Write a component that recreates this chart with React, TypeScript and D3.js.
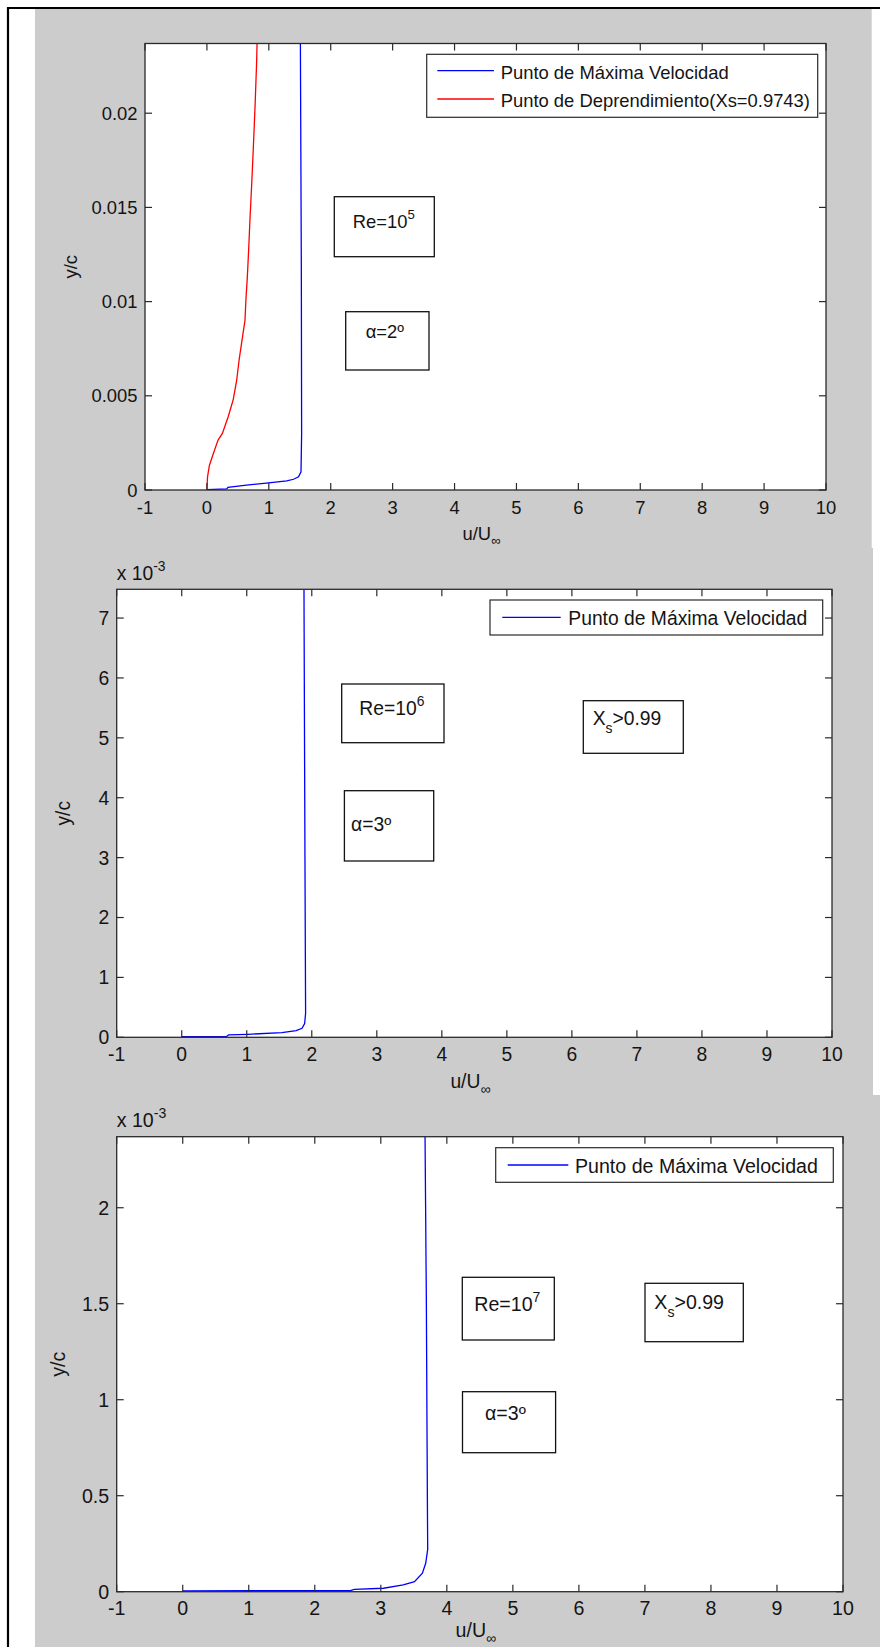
import React from 'react';
import * as d3 from 'd3';

// Shared x axis: u/U∞
const xDomain: [number, number] = [-1, 10];
const xTicks = [-1, 0, 1, 2, 3, 4, 5, 6, 7, 8, 9, 10];

// Re = 1e5, alpha = 2°
const re5YTicks = [0, 0.005, 0.01, 0.015, 0.02];
const re5YTickLabels = ['0', '0.005', '0.01', '0.015', '0.02'];
const re5MaxU = [0, 0.32, 0.34, 0.64, 0.96, 1.29, 1.4, 1.48, 1.52, 1.53, 1.525, 1.51];
const re5MaxY = [0.00002, 0.00006, 0.00014, 0.00026, 0.00037, 0.00048, 0.00057, 0.0007, 0.00097, 0.003, 0.012, 0.0237];
const re5SepU = [0, 0.01, 0.04, 0.1, 0.18, 0.25, 0.345, 0.425, 0.48, 0.52, 0.56, 0.615, 0.63, 0.653, 0.675, 0.696, 0.723, 0.749, 0.777, 0.803, 0.81];
const re5SepY = [0, 0.0007, 0.0013, 0.0019, 0.00265, 0.003, 0.0039, 0.0048, 0.0058, 0.0069, 0.0078, 0.009, 0.0101, 0.0113, 0.0128, 0.0144, 0.0162, 0.0181, 0.0203, 0.0227, 0.0237];

// Re = 1e6, alpha = 3° (y in units of 1e-3)
const re6YTicks = [0, 1, 2, 3, 4, 5, 6, 7];
const re6YTickLabels = ['0', '1', '2', '3', '4', '5', '6', '7'];
const re6MaxU = [0, 0.69, 0.72, 1.02, 1.54, 1.76, 1.85, 1.89, 1.905, 1.895, 1.88];
const re6MaxY = [0.01, 0.015, 0.04, 0.05, 0.077, 0.11, 0.15, 0.23, 0.4, 3.0, 7.48];

// Re = 1e7, alpha = 3° (y in units of 1e-3)
const re7YTicks = [0, 0.5, 1, 1.5, 2];
const re7YTickLabels = ['0', '0.5', '1', '1.5', '2'];
const re7MaxU = [0, 2.54, 2.6, 3.04, 3.34, 3.51, 3.63, 3.68, 3.71, 3.705, 3.69, 3.67];
const re7MaxY = [0.004, 0.006, 0.012, 0.018, 0.035, 0.052, 0.096, 0.148, 0.22, 0.5, 1.5, 2.37];

const FONT = '"Liberation Sans", Arial, Helvetica, sans-serif';
const INK = '#141414';
const AXIS = '#2a2a2a';
const BLUE = '#0000ff';
const RED = '#ff0000';
const FIG_BG = '#cccccc';

type Series = { u: number[]; y: number[]; color: string; name: string };
type Box = { x0: number; y0: number; x1: number; y1: number };
type Note = { box: Box; tx: number; ty: number; kind: 're' | 'alpha' | 'xs'; value: string };
type LegendCfg = { box: Box; lx0: number; lx1: number; ly: number[]; tx: number; ty: number[] };

type PanelCfg = {
  id: string;
  left: number; right: number; top: number; bottom: number;
  yMax: number;
  yTicks: number[]; yTickLabels: string[];
  fs: number;
  exponent: boolean;
  yLabelX: number;
  xLabelGap: number;
  series: Series[];
  legend: LegendCfg;
  notes: Note[];
};

const panels: PanelCfg[] = [
  {
    id: 'p1', left: 145, right: 826, top: 43.5, bottom: 490, yMax: 0.0237,
    yTicks: re5YTicks, yTickLabels: re5YTickLabels, fs: 18.4, exponent: false, yLabelX: 77, xLabelGap: 49.5,
    series: [
      { u: re5MaxU, y: re5MaxY, color: BLUE, name: 'Punto de Máxima Velocidad' },
      { u: re5SepU, y: re5SepY, color: RED, name: 'Punto de Deprendimiento(Xs=0.9743)' },
    ],
    legend: { box: { x0: 426.7, y0: 54.3, x1: 817.7, y1: 117.3 }, lx0: 437.3, lx1: 494, ly: [70.7, 99], tx: 500.7, ty: [78.5, 107] },
    notes: [
      { box: { x0: 334.3, y0: 196.7, x1: 434.3, y1: 256.7 }, tx: 352.7, ty: 227.7, kind: 're', value: '5' },
      { box: { x0: 345.7, y0: 311.7, x1: 429, y1: 370 }, tx: 365.7, ty: 337.7, kind: 'alpha', value: '2' },
    ],
  },
  {
    id: 'p2', left: 116.7, right: 832, top: 589.3, bottom: 1037.3, yMax: 7.48,
    yTicks: re6YTicks, yTickLabels: re6YTickLabels, fs: 19.3, exponent: true, yLabelX: 70, xLabelGap: 50.5,
    series: [{ u: re6MaxU, y: re6MaxY, color: BLUE, name: 'Punto de Máxima Velocidad' }],
    legend: { box: { x0: 490, y0: 600, x1: 822.7, y1: 635 }, lx0: 502.3, lx1: 560.7, ly: [617.3], tx: 568.3, ty: [625] },
    notes: [
      { box: { x0: 341.7, y0: 684, x1: 444, y1: 742.7 }, tx: 359.3, ty: 715, kind: 're', value: '6' },
      { box: { x0: 583.3, y0: 700.7, x1: 683.3, y1: 753.3 }, tx: 592.7, ty: 725, kind: 'xs', value: '>0.99' },
      { box: { x0: 344.4, y0: 790.7, x1: 433.7, y1: 861 }, tx: 351, ty: 831, kind: 'alpha', value: '3' },
    ],
  },
  {
    id: 'p3', left: 116.7, right: 843, top: 1136.7, bottom: 1591.7, yMax: 2.37,
    yTicks: re7YTicks, yTickLabels: re7YTickLabels, fs: 19.6, exponent: true, yLabelX: 65, xLabelGap: 45.5,
    series: [{ u: re7MaxU, y: re7MaxY, color: BLUE, name: 'Punto de Máxima Velocidad' }],
    legend: { box: { x0: 495.7, y0: 1147.7, x1: 833.3, y1: 1182.3 }, lx0: 507.7, lx1: 568.3, ly: [1165], tx: 575, ty: [1172.5] },
    notes: [
      { box: { x0: 462.3, y0: 1277.3, x1: 554.3, y1: 1340 }, tx: 474.3, ty: 1310.7, kind: 're', value: '7' },
      { box: { x0: 645, y0: 1283.3, x1: 743.3, y1: 1341.7 }, tx: 654.3, ty: 1309.3, kind: 'xs', value: '>0.99' },
      { box: { x0: 462.5, y0: 1391.7, x1: 555.6, y1: 1452.7 }, tx: 485, ty: 1420, kind: 'alpha', value: '3' },
    ],
  },
];

const TICK = 7;

function NoteText({ n, fs }: { n: Note; fs: number }) {
  const small = fs * 0.72;
  if (n.kind === 're') {
    return (
      <text x={n.tx} y={n.ty} fontSize={fs} fill={INK} fontFamily={FONT}>
        Re=10<tspan dy={-fs * 0.45} fontSize={small}>{n.value}</tspan>
      </text>
    );
  }
  if (n.kind === 'xs') {
    return (
      <text x={n.tx} y={n.ty} fontSize={fs} fill={INK} fontFamily={FONT}>
        X<tspan dy={fs * 0.4} fontSize={small}>s</tspan>
        <tspan dy={-fs * 0.4} fontSize={fs}>{n.value}</tspan>
      </text>
    );
  }
  return (
    <text x={n.tx} y={n.ty} fontSize={fs} fill={INK} fontFamily={FONT}>
      α={n.value}º
    </text>
  );
}

function Panel({ p }: { p: PanelCfg }) {
  const x = d3.scaleLinear().domain(xDomain).range([p.left, p.right]);
  const y = d3.scaleLinear().domain([0, p.yMax]).range([p.bottom, p.top]);
  const line = d3
    .line<[number, number]>()
    .x((d) => x(d[0]))
    .y((d) => y(d[1]));
  const fs = p.fs;
  const midX = (p.left + p.right) / 2;
  const midY = (p.top + p.bottom) / 2;

  return (
    <g>
      <defs>
        <clipPath id={`clip-${p.id}`}>
          <rect x={p.left} y={p.top} width={p.right - p.left} height={p.bottom - p.top} />
        </clipPath>
      </defs>
      <rect x={p.left} y={p.top} width={p.right - p.left} height={p.bottom - p.top} fill="#ffffff" />

      {/* curves */}
      <g clipPath={`url(#clip-${p.id})`}>
        {p.series.map((s) => (
          <path
            key={s.name + s.color}
            d={line(d3.zip(s.u, s.y) as [number, number][]) || ''}
            fill="none"
            stroke={s.color}
            strokeWidth={1.3}
          />
        ))}
      </g>

      {/* ticks on all four sides, pointing inward */}
      <g stroke={AXIS} strokeWidth={1.2}>
        {xTicks.map((t) => (
          <g key={`xt${t}`}>
            <line x1={x(t)} x2={x(t)} y1={p.bottom} y2={p.bottom - TICK} />
            <line x1={x(t)} x2={x(t)} y1={p.top} y2={p.top + TICK} />
          </g>
        ))}
        {p.yTicks.map((t) => (
          <g key={`yt${t}`}>
            <line x1={p.left} x2={p.left + TICK} y1={y(t)} y2={y(t)} />
            <line x1={p.right} x2={p.right - TICK} y1={y(t)} y2={y(t)} />
          </g>
        ))}
      </g>
      <rect
        x={p.left}
        y={p.top}
        width={p.right - p.left}
        height={p.bottom - p.top}
        fill="none"
        stroke={AXIS}
        strokeWidth={1.3}
      />

      {/* tick labels */}
      <g fontFamily={FONT} fontSize={fs} fill={INK}>
        {xTicks.map((t) => (
          <text key={`xl${t}`} x={x(t)} y={p.bottom + 23.5} textAnchor="middle">
            {String(t)}
          </text>
        ))}
        {p.yTicks.map((t, i) => (
          <text key={`yl${t}`} x={p.left - 7.5} y={y(t)} dy="0.36em" textAnchor="end">
            {p.yTickLabels[i]}
          </text>
        ))}
      </g>

      {p.exponent && (
        <text x={p.left} y={p.top - 9.5} fontFamily={FONT} fontSize={fs} fill={INK}>
          x 10<tspan dy={-fs * 0.45} fontSize={fs * 0.72}>-3</tspan>
        </text>
      )}

      {/* axis titles */}
      <text x={midX - 4} y={p.bottom + p.xLabelGap} fontFamily={FONT} fontSize={fs} fill={INK} textAnchor="middle">
        u/U<tspan dy={fs * 0.3} fontSize={fs * 0.72}>∞</tspan>
      </text>
      <text
        transform={`translate(${p.yLabelX},${midY}) rotate(-90)`}
        fontFamily={FONT}
        fontSize={fs}
        fill={INK}
        textAnchor="middle"
      >
        y/c
      </text>

      {/* legend */}
      <rect
        x={p.legend.box.x0}
        y={p.legend.box.y0}
        width={p.legend.box.x1 - p.legend.box.x0}
        height={p.legend.box.y1 - p.legend.box.y0}
        fill="#ffffff"
        stroke={AXIS}
        strokeWidth={1.2}
      />
      {p.series.map((s, i) => (
        <g key={`lg${i}`}>
          <line x1={p.legend.lx0} x2={p.legend.lx1} y1={p.legend.ly[i]} y2={p.legend.ly[i]} stroke={s.color} strokeWidth={1.3} />
          <text x={p.legend.tx} y={p.legend.ty[i]} fontFamily={FONT} fontSize={fs} fill={INK}>
            {s.name}
          </text>
        </g>
      ))}

      {/* annotation boxes */}
      {p.notes.map((n, i) => (
        <g key={`nt${i}`}>
          <rect
            x={n.box.x0}
            y={n.box.y0}
            width={n.box.x1 - n.box.x0}
            height={n.box.y1 - n.box.y0}
            fill="#ffffff"
            stroke="#111"
            strokeWidth={1.3}
          />
          <NoteText n={n} fs={fs} />
        </g>
      ))}
    </g>
  );
}

export default function App() {
  const W = 880;
  const H = 1647;
  return (
    <svg
      width={W}
      height={H}
      viewBox={`0 0 ${W} ${H}`}
      style={{ position: 'absolute', left: 0, top: 0, display: 'block' }}
    >
      <rect x={0} y={0} width={W} height={H} fill="#ffffff" />
      {/* figure backgrounds */}
      <rect x={35} y={9} width={836.7} height={539} fill={FIG_BG} />
      <rect x={35} y={548} width={838} height={547} fill={FIG_BG} />
      <rect x={35} y={1095} width={845} height={552} fill={FIG_BG} />
      {/* outer frame */}
      <line x1={7} x2={W} y1={8} y2={8} stroke="#000" strokeWidth={2.2} />
      <line x1={8} x2={8} y1={7} y2={H} stroke="#000" strokeWidth={2.2} />
      {panels.map((p) => (
        <Panel key={p.id} p={p} />
      ))}
    </svg>
  );
}
